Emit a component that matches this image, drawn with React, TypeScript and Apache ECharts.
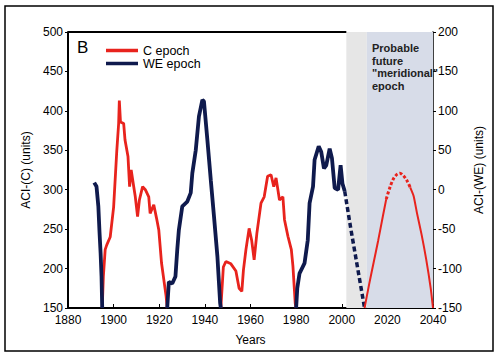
import React, { useEffect, useRef } from "react";
import * as echarts from "echarts";

// C epoch (ACI-(C), left axis units)
const cEpoch1: [number, number][] = [
  [1895, 150], [1895.5, 190], [1896.3, 224], [1897, 230], [1898.5, 240], [1900, 278],
  [1901.4, 350], [1902.2, 384], [1902.5, 413], [1903, 386], [1904.4, 384], [1905, 363],
  [1906.3, 342], [1907, 304], [1907.7, 325], [1908.8, 304], [1909.5, 291], [1910.5, 266],
  [1911.3, 287], [1912.7, 304], [1913.9, 300], [1915.4, 291], [1916, 270], [1917.6, 281],
  [1918.8, 264], [1919.8, 249], [1921, 207], [1922, 186], [1923, 165], [1923.5, 150],
];
const cEpoch2: [number, number][] = [
  [1947, 150], [1948.1, 202], [1949.2, 209], [1951.4, 206], [1953.6, 197], [1955, 175],
  [1956.2, 171], [1956.9, 198], [1958, 224], [1959.4, 251], [1960.5, 236], [1961.6, 211],
  [1962.8, 245], [1964.6, 283], [1966, 291], [1967.5, 317], [1969, 319], [1970.2, 304],
  [1971.2, 315], [1972.7, 287], [1974.2, 291], [1974.9, 262], [1976.4, 241], [1977.9, 224],
  [1978.6, 203], [1979.6, 156], [1980, 150],
];
// Projected future C epoch
const cFutureRise: [number, number][] = [
  [2010, 150], [2012, 180], [2014, 208], [2016, 236], [2018, 266], [2019.5, 288],
];
const cFutureTop: [number, number][] = [
  [2019.5, 288], [2021, 302], [2022.5, 313], [2024, 319], [2025.5, 321], [2027, 318],
  [2028.5, 312], [2030, 303],
];
const cFutureFall: [number, number][] = [
  [2030, 303], [2031.5, 292], [2033, 270], [2035, 243], [2037, 212], [2039, 175], [2040, 150],
];

// WE epoch (ACI-(WE), right axis units)
const weEpoch1: [number, number][] = [
  [1891.5, 9], [1892.5, 4], [1893.3, -21], [1893.8, -53], [1894.3, -81], [1894.7, -110], [1895, -150],
];
const weEpoch2: [number, number][] = [
  [1923.5, -150], [1924.2, -117], [1925, -118], [1925.7, -119], [1927.1, -110], [1927.9, -76],
  [1928.6, -51], [1930.1, -21], [1932.3, -15], [1933.8, -4], [1934.5, 21], [1936, 50],
  [1937.4, 93], [1938.9, 114], [1939.6, 112], [1941.1, 63], [1942.6, 12], [1944, -34],
  [1945.5, -85], [1946.7, -144], [1947, -150],
];
const weEpoch3: [number, number][] = [
  [1980, -150], [1980.5, -125], [1981.5, -106], [1983.7, -93], [1985.1, -64], [1985.9, -17],
  [1987.4, 4], [1988.1, 38], [1989.9, 55], [1991, 48], [1992.2, 27], [1993.2, 31],
  [1994.7, 52], [1995.7, 40], [1996.9, 2], [1998.4, 0], [1999.5, 31], [2000.3, 8], [2001.3, -2],
];
const weFuture: [number, number][] = [
  [2001.3, -2], [2004, -50], [2007, -100], [2010, -150],
];

const xTicks = { min: 1880, max: 2040, interval: 20 };
const leftTicks = { min: 150, max: 500, interval: 50 };
const rightTicks = { min: -150, max: 200, interval: 50 };
const shadeGray: [number, number] = [2002, 2011];
const shadeBlue: [number, number] = [2011, 2040];
const futureLabel = 'Probable\nfuture\n"meridional"\nepoch';

const RED = "#e8231d";
const NAVY = "#0f1a4d";
const FONT = "'Liberation Sans', Arial, sans-serif";

export default function App() {
  const ref = useRef<HTMLDivElement>(null);
  useEffect(() => {
    if (!ref.current) return;
    const chart = echarts.init(ref.current, undefined, { renderer: "svg" });
    const axisText = { color: "#000", fontSize: 12, fontFamily: FONT };
    const plain = (v: number) => String(v);
    chart.setOption({
      animation: false,
      grid: { left: 68, right: 67, top: 32, bottom: 49 },
      textStyle: { fontFamily: FONT },
      legend: {
        orient: "vertical",
        left: 104,
        top: 42,
        padding: 2,
        itemGap: 0,
        itemWidth: 32,
        itemHeight: 3.5,
        icon: "rect",
        data: ["C epoch", "WE epoch"],
        textStyle: { color: "#000", fontSize: 12.5, lineHeight: 12.5, fontFamily: FONT },
      },
      xAxis: {
        type: "value",
        ...xTicks,
        name: "Years",
        nameLocation: "middle",
        nameGap: 26,
        nameTextStyle: axisText,
        axisLine: { onZero: false, lineStyle: { color: "#000", width: 2 } },
        axisTick: { inside: true, length: 4, lineStyle: { color: "#000", width: 1 } },
        axisLabel: { ...axisText, margin: 6, formatter: plain },
        splitLine: { show: false },
      },
      yAxis: [
        {
          type: "value",
          ...leftTicks,
          name: "ACI-(C) (units)",
          nameLocation: "middle",
          nameGap: 32,
          nameTextStyle: axisText,
          axisLine: { show: true, onZero: false, lineStyle: { color: "#000", width: 2 } },
          axisTick: { show: true, length: 3, lineStyle: { color: "#000" } },
          axisLabel: { ...axisText, margin: 5, formatter: plain },
          splitLine: { show: false },
        },
        {
          type: "value",
          ...rightTicks,
          position: "right",
          name: "ACI-(WE) (units)",
          nameLocation: "middle",
          nameGap: 27,
          nameRotate: 90,
          nameTextStyle: axisText,
          axisLine: { show: true, onZero: false, lineStyle: { color: "#000", width: 1.5 } },
          axisTick: { show: true, length: 3, lineStyle: { color: "#000" } },
          axisLabel: { ...axisText, margin: 5, formatter: plain },
          splitLine: { show: false },
        },
      ],
      series: [
        {
          name: "shade",
          type: "line",
          data: [],
          z: 0,
          markArea: {
            silent: true,
            data: [
              [{ xAxis: shadeGray[0], itemStyle: { color: "#e6e6e6" } }, { xAxis: shadeGray[1] }],
              [{ xAxis: shadeBlue[0], itemStyle: { color: "#d7dce8" } }, { xAxis: shadeBlue[1] }],
            ],
          },
          markLine: {
            silent: true,
            symbol: "none",
            label: { show: false },
            lineStyle: { color: "#000", width: 2, type: "solid" },
            data: [[{ coord: [xTicks.min, leftTicks.max] }, { coord: [shadeGray[0], leftTicks.max] }]],
          },
        },
        ...[cEpoch1, cEpoch2].map((d) => ({
          name: "C epoch",
          type: "line",
          data: d,
          showSymbol: false,
          symbol: "none",
          color: RED,
          lineStyle: { color: RED, width: 2.8 },
          z: 3,
        })),
        ...[weEpoch1, weEpoch2, weEpoch3].map((d) => ({
          name: "WE epoch",
          type: "line",
          yAxisIndex: 1,
          data: d,
          showSymbol: false,
          symbol: "none",
          color: NAVY,
          lineStyle: { color: NAVY, width: 3.8 },
          z: 3,
        })),
        {
          name: "WE future",
          type: "line",
          yAxisIndex: 1,
          data: weFuture,
          showSymbol: false,
          symbol: "none",
          lineStyle: { color: NAVY, width: 3.5, type: [5, 3] },
          z: 3,
        },
        ...[cFutureRise, cFutureFall].map((d) => ({
          name: "C future",
          type: "line",
          data: d,
          smooth: 0.2,
          showSymbol: false,
          symbol: "none",
          lineStyle: { color: RED, width: 2 },
          z: 3,
        })),
        {
          name: "C future top",
          type: "line",
          data: cFutureTop,
          smooth: 0.3,
          showSymbol: false,
          symbol: "none",
          lineStyle: { color: RED, width: 3, type: [3, 2] },
          z: 3,
        },
      ],
      graphic: [
        {
          type: "rect",
          shape: { x: 5, y: 6, width: 488, height: 345 },
          style: { fill: "none", stroke: "#000", lineWidth: 1.5 },
          silent: true,
        },
        {
          type: "text",
          left: 77,
          top: 39,
          style: { text: "B", fontSize: 17, fontFamily: FONT, fill: "#000" },
        },
        {
          type: "text",
          left: 372,
          top: 42,
          style: {
            text: futureLabel,
            fontSize: 11,
            fontWeight: "bold",
            lineHeight: 12.5,
            fontFamily: FONT,
            fill: "#222",
          },
          z: 10,
        },
      ],
    });
    return () => chart.dispose();
  }, []);
  return (
    <div
      ref={ref}
      style={{ position: "fixed", left: 0, top: 0, width: 500, height: 357, background: "#fff" }}
    />
  );
}
